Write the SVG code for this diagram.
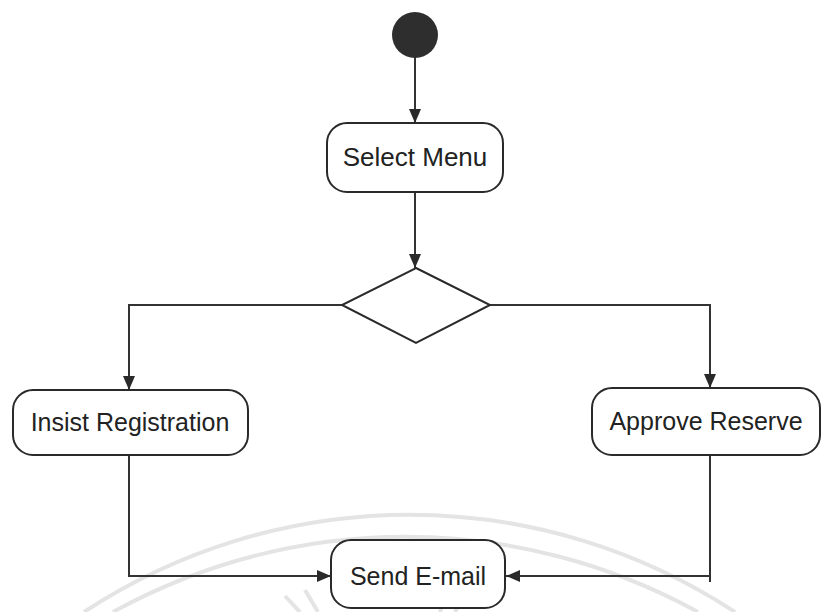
<svg xmlns="http://www.w3.org/2000/svg" width="823" height="612" viewBox="0 0 823 612">
<defs>
<style>
.node{fill:#fff;stroke:#2a2a2a;stroke-width:2}
.lbl{font-family:"Liberation Sans",Arial,sans-serif;font-size:25px;fill:#222;text-anchor:middle}
.edge{fill:none;stroke:#333;stroke-width:2}
.wm{fill:none;stroke:#e4e4e4;stroke-width:4}
</style>
<marker id="ah" viewBox="0 0 14 12" refX="14" refY="6" markerWidth="14" markerHeight="12" markerUnits="userSpaceOnUse" orient="auto">
<path d="M0,0 L14,6 L0,12 Z" fill="#2a2a2a"/>
</marker>
</defs>
<rect width="823" height="612" fill="#fff"/>
<g id="watermark">
<path class="wm" d="M84,612 A593,593 0 0 1 735,612"/>
<path class="wm" d="M113,612 A606,606 0 0 1 698,612"/>
<path class="wm" stroke-width="3" d="M285,596 L300,612 M305,590 L318,612 M440,612 L446,592 M455,612 L465,594"/>
</g>
<g id="edges">
<path class="edge" d="M415,57 L415,123" marker-end="url(#ah)"/>
<path class="edge" d="M415,193 L415,268" marker-end="url(#ah)"/>
<path class="edge" d="M342,305 L129,305 L129,390" marker-end="url(#ah)"/>
<path class="edge" d="M490,305 L710,305 L710,388" marker-end="url(#ah)"/>
<path class="edge" d="M129,455 L129,576 L331,576" marker-end="url(#ah)"/>
<path class="edge" d="M710,455 L710,582 M710,576 L506,576" marker-end="url(#ah)"/>
</g>
<g id="start"><circle cx="415" cy="35" r="23" fill="#2e2e2e"/></g>
<g id="select-menu">
<rect class="node" x="327" y="123" width="176" height="69" rx="20"/>
<text class="lbl" x="415" y="166" style="font-size:26px">Select Menu</text>
</g>
<g id="decision"><polygon class="node" points="416,268 490,305 416,343 342,305"/></g>
<g id="insist-registration">
<rect class="node" x="13" y="390" width="235" height="65" rx="20"/>
<text class="lbl" x="130" y="431">Insist Registration</text>
</g>
<g id="approve-reserve">
<rect class="node" x="592" y="388" width="228" height="67" rx="20"/>
<text class="lbl" x="706" y="430">Approve Reserve</text>
</g>
<g id="send-email">
<rect class="node" x="331" y="540" width="174" height="68" rx="20"/>
<text class="lbl" x="418" y="585">Send E-mail</text>
</g>
</svg>
